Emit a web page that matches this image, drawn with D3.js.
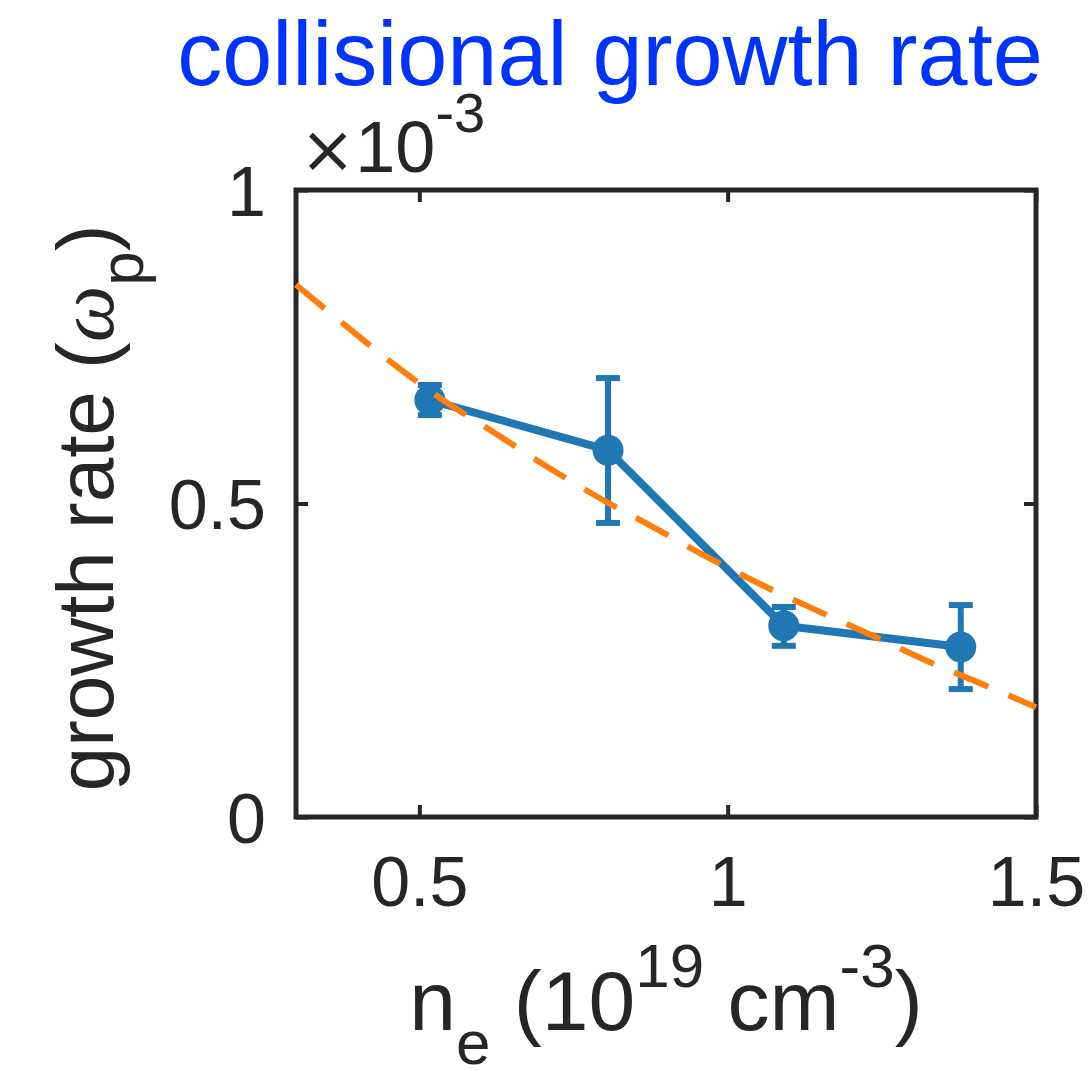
<!DOCTYPE html>
<html>
<head>
<meta charset="utf-8">
<script src="https://cdn.jsdelivr.net/npm/d3@7"></script>
<style>
	body { margin: 0; background: #fff; }
	svg text { font-family: "Liberation Sans", Arial, Helvetica, sans-serif; fill: #262626; }
</style>
</head>
<body>
<div id="chart"></div>
<script>
var width = 1092,
	height = 1070;

// density (10^19 cm^-3) and growth rate (x 10^-3 omega_p)
var densityX = [0.517, 0.806, 1.091, 1.378];
var growthY = [0.665, 0.585, 0.305, 0.271];
var errLow = [0.641, 0.469, 0.273, 0.204];
var errHigh = [0.689, 0.700, 0.335, 0.338];

// fit curve
var fitX = [0.30, 0.38, 0.46, 0.54, 0.62, 0.71, 0.79, 0.88, 0.97, 1.06, 1.15, 1.24, 1.33, 1.42, 1.50];
var fitY = [0.849, 0.784, 0.721, 0.664, 0.614, 0.557, 0.510, 0.462, 0.413, 0.368, 0.327, 0.287, 0.246, 0.209, 0.175];

var xTicks = [0.5, 1, 1.5];
var xTickLabels = ["0.5", "1", "1.5"];
var yTicks = [0, 0.5, 1];
var yTickLabels = ["0", "0.5", "1"];

var margin = { left: 296, right: 1036, top: 190, bottom: 817 };

var blue = "#1f77b4",
	orange = "#ff7f0e",
	ink = "#262626";

var x = d3.scaleLinear().domain([0.3, 1.5]).range([margin.left, margin.right]);
var y = d3.scaleLinear().domain([0, 1]).range([margin.bottom, margin.top]);

var svg = d3.select("#chart")
	.append("svg")
	.attr("width", width)
	.attr("height", height);

//axes, ticks inward on all four sides

var xAxis = svg.append("g")
	.attr("transform", "translate(0," + margin.bottom + ")")
	.call(d3.axisBottom(x).tickValues(xTicks).tickSize(-12).tickSizeOuter(0)
		.tickFormat(function (d, i) { return xTickLabels[i]; }));
xAxis.selectAll("text")
	.attr("y", 89)
	.attr("dy", null)
	.style("font-size", "70px");

svg.append("g")
	.attr("transform", "translate(0," + margin.top + ")")
	.call(d3.axisTop(x).tickValues(xTicks).tickSize(-12).tickSizeOuter(0).tickFormat(""));

var yAxis = svg.append("g")
	.attr("transform", "translate(" + margin.left + ",0)")
	.call(d3.axisLeft(y).tickValues(yTicks).tickSize(-12).tickSizeOuter(0)
		.tickFormat(function (d, i) { return yTickLabels[i]; }));
yAxis.selectAll("text")
	.attr("x", -30)
	.attr("dy", "0.36em")
	.style("font-size", "70px");

svg.append("g")
	.attr("transform", "translate(" + margin.right + ",0)")
	.call(d3.axisRight(y).tickValues(yTicks).tickSize(-12).tickSizeOuter(0).tickFormat(""));

svg.selectAll(".domain").remove();
svg.selectAll(".tick line")
	.attr("stroke", ink)
	.attr("stroke-width", 4);

svg.append("rect")
	.attr("x", margin.left)
	.attr("y", margin.top)
	.attr("width", margin.right - margin.left)
	.attr("height", margin.bottom - margin.top)
	.attr("fill", "none")
	.attr("stroke", ink)
	.attr("stroke-width", 5);

/* ------- DATA -------*/

var pts = densityX.map(function (d, i) {
	return { x: d, y: growthY[i], lo: errLow[i], hi: errHigh[i] };
});

var plot = svg.append("g");

var line = d3.line()
	.x(function (d) { return x(d.x); })
	.y(function (d) { return y(d.y); });

plot.append("path")
	.datum(pts)
	.attr("d", line)
	.attr("fill", "none")
	.attr("stroke", blue)
	.attr("stroke-width", 8)
	.attr("stroke-linejoin", "round");

var capW = 12;
var bars = plot.selectAll("g.err")
	.data(pts)
	.enter()
	.append("g")
	.attr("class", "err")
	.attr("stroke", blue)
	.attr("stroke-width", 6);

bars.append("line")
	.attr("x1", function (d) { return x(d.x); })
	.attr("x2", function (d) { return x(d.x); })
	.attr("y1", function (d) { return y(d.lo); })
	.attr("y2", function (d) { return y(d.hi); });
bars.append("line")
	.attr("x1", function (d) { return x(d.x) - capW; })
	.attr("x2", function (d) { return x(d.x) + capW; })
	.attr("y1", function (d) { return y(d.lo); })
	.attr("y2", function (d) { return y(d.lo); });
bars.append("line")
	.attr("x1", function (d) { return x(d.x) - capW; })
	.attr("x2", function (d) { return x(d.x) + capW; })
	.attr("y1", function (d) { return y(d.hi); })
	.attr("y2", function (d) { return y(d.hi); });

plot.selectAll("circle")
	.data(pts)
	.enter()
	.append("circle")
	.attr("cx", function (d) { return x(d.x); })
	.attr("cy", function (d) { return y(d.y); })
	.attr("r", 15.5)
	.attr("fill", blue);

//fit curve on top
var fit = fitX.map(function (d, i) { return { x: d, y: fitY[i] }; });
plot.append("path")
	.datum(fit)
	.attr("d", line.curve(d3.curveMonotoneX))
	.attr("fill", "none")
	.attr("stroke", orange)
	.attr("stroke-width", 6)
	.attr("stroke-dasharray", "37,22");

/* ------- TEXT -------*/

svg.append("text")
	.attr("x", 610)
	.attr("y", 85)
	.attr("text-anchor", "middle")
	.style("font-size", "90px")
	.style("fill", "#0033ff")
	.text("collisional growth rate");

var mult = svg.append("text")
	.attr("x", 300)
	.attr("y", 172)
	.style("font-size", "72px");
mult.append("tspan").style("font-family", "'DejaVu Sans', sans-serif").style("font-size", "66px").text("\u00d7");
mult.append("tspan").text("10");
mult.append("tspan").attr("dy", -40).style("font-size", "56px").text("-3");

var xl = svg.append("text")
	.attr("x", 666)
	.attr("y", 1030)
	.attr("text-anchor", "middle")
	.style("font-size", "84px");
xl.append("tspan").text("n");
xl.append("tspan").attr("dy", 34).style("font-size", "62px").text("e");
xl.append("tspan").attr("dy", -34).text(" (10");
xl.append("tspan").attr("dy", -43).style("font-size", "62px").text("19");
xl.append("tspan").attr("dy", 43).text(" cm");
xl.append("tspan").attr("dy", -43).style("font-size", "62px").text("-3");
xl.append("tspan").attr("dy", 43).text(")");

var yl = svg.append("text")
	.attr("transform", "translate(113,508) rotate(-90)")
	.attr("text-anchor", "middle")
	.style("font-size", "80px");
yl.append("tspan").text("growth rate (");
yl.append("tspan")
	.style("font-family", "'Liberation Serif', 'Times New Roman', serif")
	.style("font-style", "italic")
	.text("\u03c9");
yl.append("tspan").attr("dy", 30).style("font-size", "62px").text("p");
yl.append("tspan").attr("dy", -30).text(")");
</script>
</body>
</html>
